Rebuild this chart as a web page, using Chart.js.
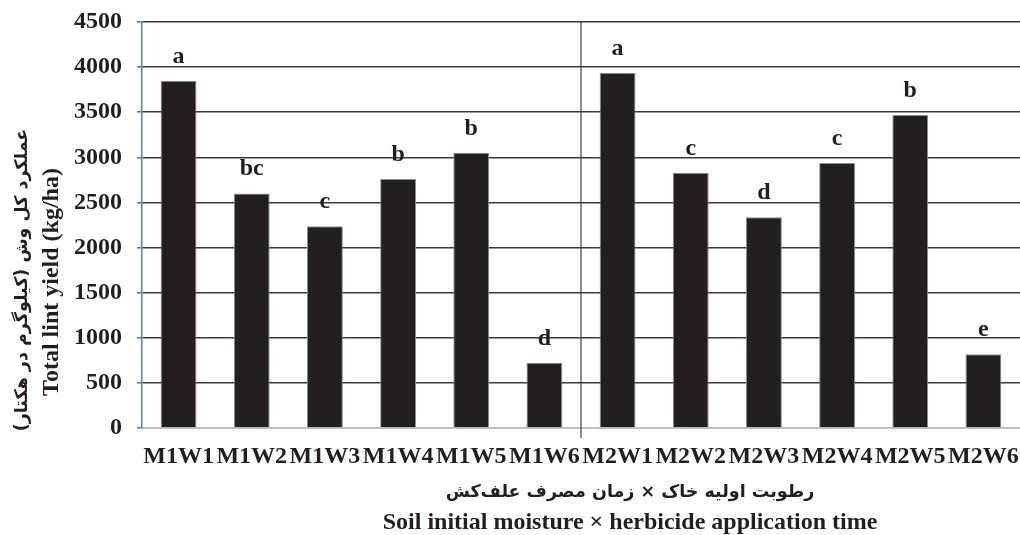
<!DOCTYPE html>
<html>
<head>
<meta charset="utf-8">
<script src="https://cdn.jsdelivr.net/npm/chart.js@4.4.1/dist/chart.umd.min.js"></script>
<style>
  html, body { margin: 0; padding: 0; background: #ffffff; }
  #wrap { width: 1020px; height: 535px; position: relative; }
</style>
</head>
<body>
<div id="wrap"><canvas id="yieldChart"></canvas></div>
<script>
// Total lint yield per treatment (kg/ha)
const categories = ['M1W1', 'M1W2', 'M1W3', 'M1W4', 'M1W5', 'M1W6',
                    'M2W1', 'M2W2', 'M2W3', 'M2W4', 'M2W5', 'M2W6'];
const yieldValues = [3850, 2600, 2235, 2760, 3050, 722,
                     3935, 2830, 2335, 2937, 3470, 818];
const groupLetters = ['a', 'bc', 'c', 'b', 'b', 'd',
                      'a', 'c', 'd', 'c', 'b', 'e'];
const yTicks = [0, 500, 1000, 1500, 2000, 2500, 3000, 3500, 4000, 4500];

const yTitleFa = 'عملکرد کل وش (کیلوگرم در هکتار)';
const yTitleEn = 'Total lint yield (kg/ha)';
const xTitleFa = 'رطوبت اولیه خاک × زمان مصرف علف‌کش';
const xTitleEn = 'Soil initial moisture × herbicide application time';

const serif = '"Liberation Serif", "DejaVu Serif", serif';

// letters above bars, divider between M1 and M2, axis titles
const annotatePlugin = {
    id: 'annotate',
    afterDatasetsDraw(chart) {
        const ctx = chart.ctx;
        const meta = chart.getDatasetMeta(0);
        const area = chart.chartArea;
        const x = chart.scales.x;

        ctx.save();
        // divider line between the two moisture groups
        const midX = (x.getPixelForValue(5) + x.getPixelForValue(6)) / 2;
        ctx.strokeStyle = '#404040';
        ctx.lineWidth = 1.2;
        ctx.beginPath();
        ctx.moveTo(midX, area.top);
        ctx.lineTo(midX, area.bottom + 10);
        ctx.stroke();

        // significance letters
        ctx.fillStyle = '#231f20';
        ctx.font = 'bold 24px ' + serif;
        ctx.textAlign = 'center';
        ctx.textBaseline = 'alphabetic';
        meta.data.forEach((bar, i) => {
            ctx.fillText(groupLetters[i], bar.x, bar.y - 18);
        });

        // y axis titles (rotated)
        ctx.save();
        ctx.translate(22, 280);
        ctx.rotate(-Math.PI / 2);
        ctx.direction = 'rtl';
        ctx.textAlign = 'center';
        ctx.textBaseline = 'middle';
        ctx.font = 'bold 17.5px "DejaVu Sans", sans-serif';
        ctx.fillText(yTitleFa, 0, 0);
        ctx.restore();

        ctx.save();
        ctx.translate(52, 282);
        ctx.rotate(-Math.PI / 2);
        ctx.textAlign = 'center';
        ctx.textBaseline = 'middle';
        ctx.font = 'bold 24px ' + serif;
        ctx.fillText(yTitleEn, 0, 0);
        ctx.restore();

        // x axis titles
        ctx.textAlign = 'center';
        ctx.textBaseline = 'middle';
        ctx.save();
        ctx.direction = 'rtl';
        ctx.font = 'bold 17.5px "DejaVu Sans", sans-serif';
        ctx.fillText(xTitleFa, 630, 492);
        ctx.restore();
        ctx.font = 'bold 24px ' + serif;
        ctx.fillText(xTitleEn, 630, 523);
        ctx.restore();
    }
};

const canvas = document.getElementById('yieldChart');
new Chart(canvas, {
    type: 'bar',
    data: {
        labels: categories,
        datasets: [{
            data: yieldValues,
            backgroundColor: '#231f20',
            borderColor: '#8c8c8c',
            borderWidth: 1,
            barPercentage: 0.49,
            categoryPercentage: 1.0
        }]
    },
    options: {
        responsive: true,
        maintainAspectRatio: false,
        animation: false,
        layout: { padding: { top: 22, right: 0, left: 0, bottom: 0 } },
        plugins: {
            legend: { display: false },
            tooltip: { enabled: false }
        },
        scales: {
            x: {
                grid: { display: false, drawTicks: false },
                border: { color: '#bfbfbf', width: 2 },
                ticks: {
                    color: '#231f20',
                    font: { family: serif, size: 24, weight: 'bold' },
                    padding: 14,
                    maxRotation: 0,
                    minRotation: 0,
                    autoSkip: false
                },
                afterFit(scale) {
                    scale.height = 107;
                    scale.paddingLeft = 0;
                    scale.paddingRight = 0;
                }
            },
            y: {
                min: 0,
                max: 4500,
                afterBuildTicks(scale) {
                    scale.ticks = yTicks.map(v => ({ value: v }));
                },
                grid: {
                    color: ctx => ctx.tick && ctx.tick.value === 0 ? 'rgba(0,0,0,0)' : '#3a3a3a',
                    lineWidth: 1.6,
                    tickColor: '#4f81bd',
                    tickLength: 5
                },
                border: { color: '#4f81bd', width: 1.5 },
                ticks: {
                    color: '#231f20',
                    font: { family: serif, size: 24, weight: 'bold' },
                    padding: 15,
                    callback: v => String(v)
                },
                afterFit(scale) {
                    scale.width = 142;
                    scale.paddingTop = 0;
                    scale.paddingBottom = 0;
                }
            }
        }
    },
    plugins: [annotatePlugin]
});
</script>
</body>
</html>
